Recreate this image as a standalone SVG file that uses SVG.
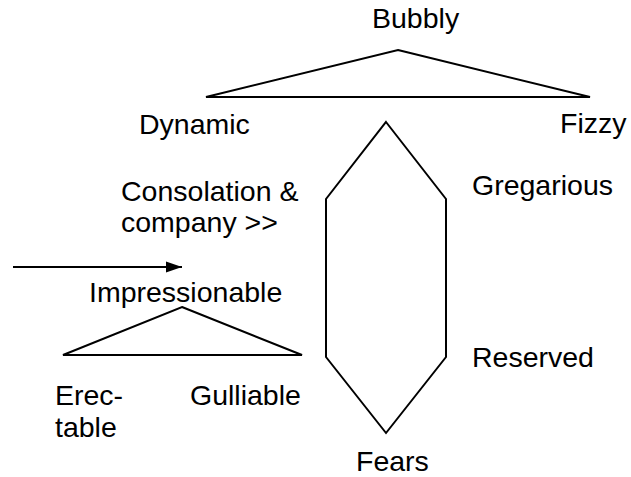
<svg xmlns="http://www.w3.org/2000/svg" width="631" height="477" viewBox="0 0 631 477">
  <style>
    .shape { fill: none; stroke: #000; stroke-width: 2; stroke-linejoin: miter; }
    .lbl { font-family: "Liberation Sans", Arial, sans-serif; font-size: 28.5px; fill: #000; }
  </style>
  <defs>
    <marker id="arrowhead" markerWidth="16" markerHeight="12" refX="16" refY="6" orient="auto" markerUnits="userSpaceOnUse">
      <path d="M0,0.5 L16,6 L0,11.5 z" fill="#000"/>
    </marker>
  </defs>
  <rect width="631" height="477" fill="#fff"/>

  <!-- upper triangle: Bubbly over Dynamic / Fizzy -->
  <g id="bubbly">
    <polygon class="shape" points="398,50 590,97 206,97"/>
    <text class="lbl" x="372" y="28">Bubbly</text>
    <text class="lbl" x="139" y="134">Dynamic</text>
    <text class="lbl" x="560" y="133">Fizzy</text>
  </g>

  <!-- hexagon: Gregarious / Reserved / Fears -->
  <g id="gregarious">
    <polygon class="shape" points="386,122 446,199 446,357 386,433 326,357 326,199"/>
    <text class="lbl" x="472" y="195">Gregarious</text>
    <text class="lbl" x="472" y="367">Reserved</text>
    <text class="lbl" x="356" y="471">Fears</text>
  </g>

  <!-- caption beside the hexagon -->
  <g id="consolation">
    <text class="lbl" x="121" y="201">Consolation &amp;</text>
    <text class="lbl" x="121" y="232">company &gt;&gt;</text>
  </g>

  <!-- lower triangle: Impressionable over Erec-table / Gulliable -->
  <g id="impressionable">
    <polygon class="shape" points="182,307 302,355 63,355"/>
    <text class="lbl" x="89" y="302">Impressionable</text>
    <text class="lbl" x="55" y="405">Erec-</text>
    <text class="lbl" x="55" y="437">table</text>
    <text class="lbl" x="190" y="405">Gulliable</text>
  </g>

  <g id="connectors">
    <line x1="13" y1="267" x2="182" y2="267" stroke="#000" stroke-width="2" marker-end="url(#arrowhead)"/>
  </g>
</svg>
